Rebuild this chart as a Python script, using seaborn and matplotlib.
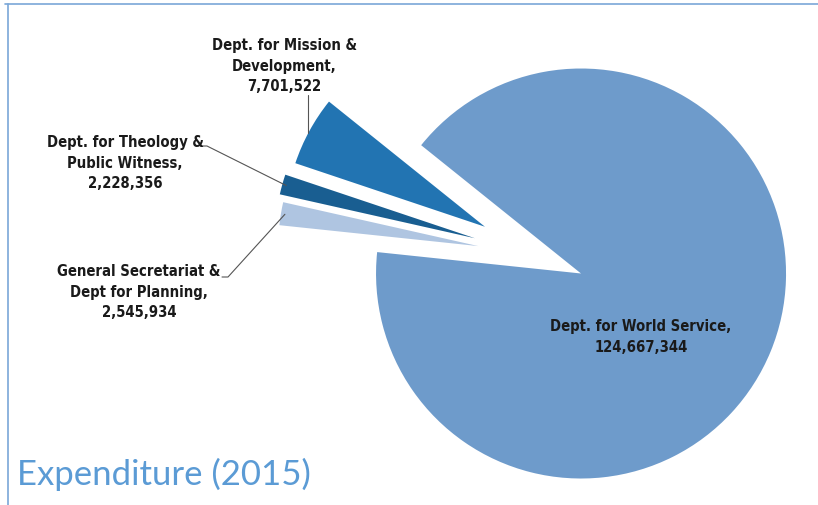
import numpy as np
import matplotlib
matplotlib.use("Agg")
import matplotlib.pyplot as plt
from matplotlib.lines import Line2D
import seaborn as sns

# ---- data ----
categories = ["Dept. for World Service", "Dept. for Mission &\nDevelopment",
              "Dept. for Theology &\nPublic Witness", "General Secretariat &\nDept for Planning"]
values = [124667344, 7701522, 2228356, 2545934]
value_labels = ["124,667,344", "7,701,522", "2,228,356", "2,545,934"]
colors = ["#6e9bcb", "#2274b2", "#195e91", "#afc5e1"]
title = "Expenditure (2015)"

W, H = 818, 506
sns.set_theme(style="white")
plt.rcParams["font.family"] = ["DejaVu Sans"]

fig = plt.figure(figsize=(W / 100, H / 100), dpi=100)
ax = fig.add_axes([0, 0, 1, 1])
ax.set_xlim(0, W)
ax.set_ylim(0, H)
ax.set_aspect("equal")
ax.axis("off")

def py(y):  # pixel-from-top -> data y
    return H - y

center = (538.5, py(257))
radius = 205
explode = [46, 61, 66, 61]  # offsets in data units
wedges, _ = ax.pie(values, colors=colors, startangle=174.0, counterclock=True,
                   center=center, radius=radius, explode=explode,
                   wedgeprops=dict(linewidth=0))
# small exploded slices are drawn slightly shorter in the original
for w in wedges[1:]:
    w.set_radius(200)
ax.set_xlim(0, W)
ax.set_ylim(0, H)

label_font = dict(fontsize=10.6, fontweight="bold", color="#1a1a1a",
                  fontstretch="condensed", family=["DejaVu Sans"],
                  ha="center", va="center", linespacing=1.42)

texts = {
    0: (641, 337),
    1: (284, 66),
    2: (125, 163),
    3: (139, 292),
}
for i, (x, y) in texts.items():
    ax.text(x, py(y), f"{categories[i]},\n{value_labels[i]}", **label_font)

def arc_point(w, frac=0.98):
    ang = np.deg2rad((w.theta1 + w.theta2) / 2)
    cx, cy = w.center
    return cx + w.r * frac * np.cos(ang), cy + w.r * frac * np.sin(ang)

lc = dict(color="#555555", lw=0.8)
mx, my = arc_point(wedges[1])
ax.plot([308, 308], [py(96), my], **lc)
tx, ty = arc_point(wedges[2])
ax.plot([201, 207, tx], [py(147), py(147), ty], **lc)
gx, gy = arc_point(wedges[3])
ax.plot([222, 228, gx], [py(278), py(278), gy], **lc)

ax.text(17, py(474), title, fontsize=25, color="#5b9bd5",
        family=["Lato", "DejaVu Sans"], fontweight="normal",
        ha="left", va="center")

fig.add_artist(Line2D([5 / W, 1], [1 - 5 / H, 1 - 5 / H], transform=fig.transFigure,
                      color="#7aa7d8", lw=1.2))
fig.add_artist(Line2D([8 / W, 8 / W], [0, 1 - 5 / H], transform=fig.transFigure,
                      color="#7aa7d8", lw=1.2))

fig.savefig("out.png", dpi=100)
